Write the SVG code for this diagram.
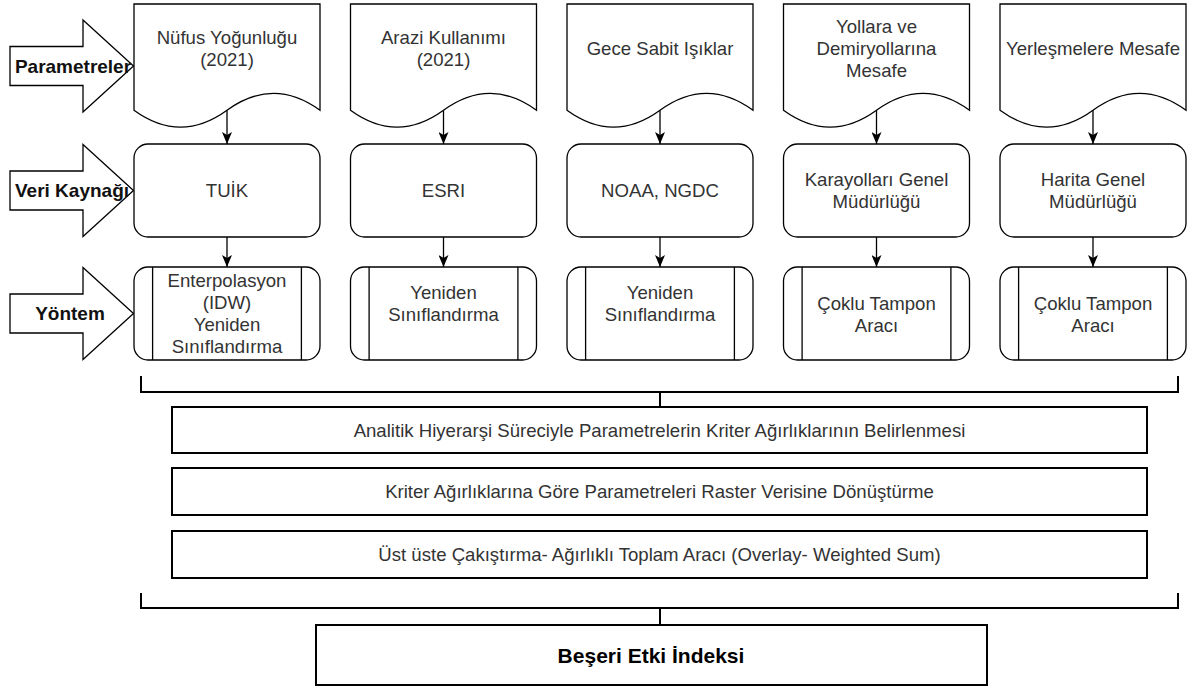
<svg xmlns="http://www.w3.org/2000/svg" width="1188" height="688" viewBox="0 0 1188 688">
<defs>
<style>
.shape{fill:#fff;stroke:#000;stroke-width:1.3}
.big{fill:#fff;stroke:#000;stroke-width:2}
.br{fill:none;stroke:#000;stroke-width:2}
.con{fill:none;stroke:#000;stroke-width:1.3}
.t{font-family:"Liberation Sans",Arial,sans-serif;font-size:18.6px;fill:#333;text-anchor:middle}
.lb{font-family:"Liberation Sans",Arial,sans-serif;font-size:19px;font-weight:bold;fill:#111;text-anchor:middle}
.bb{font-family:"Liberation Sans",Arial,sans-serif;font-size:21px;font-weight:bold;fill:#000;text-anchor:middle}
</style>
<marker id="ah" viewBox="0 0 12 10" refX="12" refY="5" markerWidth="12" markerHeight="10" markerUnits="userSpaceOnUse" orient="auto">
<path d="M0,0 L12,5 L0,10 L3,5 Z" fill="#000"/>
</marker>
</defs>
<rect width="1188" height="688" fill="#fff"/>

<!-- left block arrows -->
<g id="lbl-parametreler">
<path class="shape" d="M10,46.5 H83 V20 L133.5,66 L83,112 V85.5 H10 Z"/>
<text class="lb" x="73" y="72.5">Parametreler</text>
</g>
<g id="lbl-veri">
<path class="shape" d="M10,171 H83 V144.5 L133.5,190.5 L83,236.5 V210 H10 Z"/>
<text class="lb" x="72" y="197">Veri Kaynağı</text>
</g>
<g id="lbl-yontem">
<path class="shape" d="M10,294 H83 V267.5 L133.5,313.5 L83,359.5 V333 H10 Z"/>
<text class="lb" x="70" y="320">Yöntem</text>
</g>

<!-- documents -->
<g id="doc1">
<path class="shape" d="M134,4 H320 V110.25 Q273.5,76.5 227,110.25 Q180.5,144 134,110.25 Z"/>
<text class="t" x="227" y="43.5">Nüfus Yoğunluğu</text>
<text class="t" x="227" y="65.5">(2021)</text>
</g>
<g id="doc2">
<path class="shape" d="M350.5,4 H536.5 V110.25 Q490,76.5 443.5,110.25 Q397,144 350.5,110.25 Z"/>
<text class="t" x="443.5" y="43.5">Arazi Kullanımı</text>
<text class="t" x="443.5" y="65.5">(2021)</text>
</g>
<g id="doc3">
<path class="shape" d="M567,4 H753 V110.25 Q706.5,76.5 660,110.25 Q613.5,144 567,110.25 Z"/>
<text class="t" x="660" y="54.5">Gece Sabit Işıklar</text>
</g>
<g id="doc4">
<path class="shape" d="M783.5,4 H969.5 V110.25 Q923,76.5 876.5,110.25 Q830,144 783.5,110.25 Z"/>
<text class="t" x="876.5" y="32.5">Yollara ve</text>
<text class="t" x="876.5" y="54.5">Demiryollarına</text>
<text class="t" x="876.5" y="76.5">Mesafe</text>
</g>
<g id="doc5">
<path class="shape" d="M1000,4 H1186 V110.25 Q1139.5,76.5 1093,110.25 Q1046.5,144 1000,110.25 Z"/>
<text class="t" x="1093" y="54.5">Yerleşmelere Mesafe</text>
</g>

<!-- data sources -->
<g id="src1">
<rect class="shape" x="134" y="144" width="186" height="93" rx="14"/>
<text class="t" x="227" y="197">TUİK</text>
</g>
<g id="src2">
<rect class="shape" x="350.5" y="144" width="186" height="93" rx="14"/>
<text class="t" x="443.5" y="197">ESRI</text>
</g>
<g id="src3">
<rect class="shape" x="567" y="144" width="186" height="93" rx="14"/>
<text class="t" x="660" y="197">NOAA, NGDC</text>
</g>
<g id="src4">
<rect class="shape" x="783.5" y="144" width="186" height="93" rx="14"/>
<text class="t" x="876.5" y="186">Karayolları Genel</text>
<text class="t" x="876.5" y="208">Müdürlüğü</text>
</g>
<g id="src5">
<rect class="shape" x="1000" y="144" width="186" height="93" rx="14"/>
<text class="t" x="1093" y="186">Harita Genel</text>
<text class="t" x="1093" y="208">Müdürlüğü</text>
</g>

<!-- methods -->
<g id="m1">
<rect class="shape" x="134" y="267" width="186" height="93" rx="14"/>
<path class="shape" d="M152.6,267 V360 M301.4,267 V360"/>
<text class="t" x="227" y="287">Enterpolasyon</text>
<text class="t" x="227" y="309">(IDW)</text>
<text class="t" x="227" y="331">Yeniden</text>
<text class="t" x="227" y="353">Sınıflandırma</text>
</g>
<g id="m2">
<rect class="shape" x="350.5" y="267" width="186" height="93" rx="14"/>
<path class="shape" d="M369.1,267 V360 M517.9,267 V360"/>
<text class="t" x="443.5" y="298.5">Yeniden</text>
<text class="t" x="443.5" y="320.5">Sınıflandırma</text>
</g>
<g id="m3">
<rect class="shape" x="567" y="267" width="186" height="93" rx="14"/>
<path class="shape" d="M585.6,267 V360 M734.4,267 V360"/>
<text class="t" x="660" y="298.5">Yeniden</text>
<text class="t" x="660" y="320.5">Sınıflandırma</text>
</g>
<g id="m4">
<rect class="shape" x="783.5" y="267" width="186" height="93" rx="14"/>
<path class="shape" d="M802.1,267 V360 M950.9,267 V360"/>
<text class="t" x="876.5" y="309.5">Çoklu Tampon</text>
<text class="t" x="876.5" y="331.5">Aracı</text>
</g>
<g id="m5">
<rect class="shape" x="1000" y="267" width="186" height="93" rx="14"/>
<path class="shape" d="M1018.6,267 V360 M1167.4,267 V360"/>
<text class="t" x="1093" y="309.5">Çoklu Tampon</text>
<text class="t" x="1093" y="331.5">Aracı</text>
</g>

<!-- steps -->
<g id="step1">
<rect class="big" x="172" y="407" width="975" height="46"/>
<text class="t" x="659.5" y="436.5">Analitik Hiyerarşi Süreciyle Parametrelerin Kriter Ağırlıklarının Belirlenmesi</text>
</g>
<g id="step2">
<rect class="big" x="172" y="468" width="975" height="47"/>
<text class="t" x="659.5" y="498">Kriter Ağırlıklarına Göre Parametreleri Raster Verisine Dönüştürme</text>
</g>
<g id="step3">
<rect class="big" x="172" y="531" width="975" height="47"/>
<text class="t" x="659.5" y="561">Üst üste Çakıştırma- Ağırlıklı Toplam Aracı (Overlay- Weighted Sum)</text>
</g>
<g id="result">
<rect class="big" x="316" y="625" width="671" height="60"/>
<text class="bb" x="651" y="662.5">Beşeri Etki İndeksi</text>
</g>

<!-- connectors -->
<g id="connectors">
<path class="con" marker-end="url(#ah)" d="M227,110.25 V144"/>
<path class="con" marker-end="url(#ah)" d="M443.5,110.25 V144"/>
<path class="con" marker-end="url(#ah)" d="M660,110.25 V144"/>
<path class="con" marker-end="url(#ah)" d="M876.5,110.25 V144"/>
<path class="con" marker-end="url(#ah)" d="M1093,110.25 V144"/>
<path class="con" marker-end="url(#ah)" d="M227,237 V267"/>
<path class="con" marker-end="url(#ah)" d="M443.5,237 V267"/>
<path class="con" marker-end="url(#ah)" d="M660,237 V267"/>
<path class="con" marker-end="url(#ah)" d="M876.5,237 V267"/>
<path class="con" marker-end="url(#ah)" d="M1093,237 V267"/>
<path class="br" d="M141,376 V392 H1178 V376 M660,392 V407"/>
<path class="br" d="M141,593 V608 H1178 V593 M660,608 V625"/>
</g>
</svg>
